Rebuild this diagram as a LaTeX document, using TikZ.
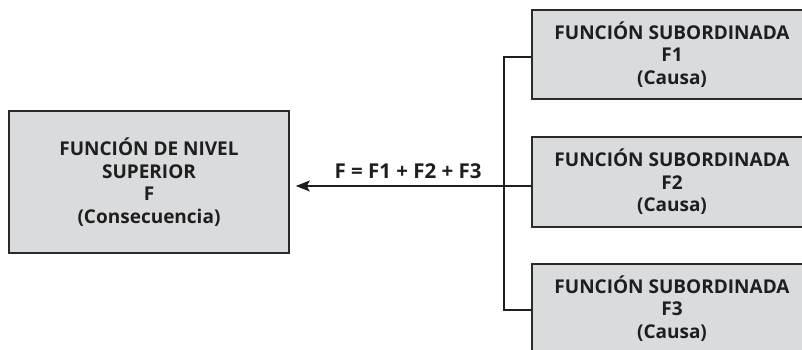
\documentclass[tikz,border=0pt]{standalone}
\usepackage{fontspec}
\setmainfont{Open Sans}
\usetikzlibrary{arrows.meta,calc}
\definecolor{boxfill}{HTML}{DADBDD}
\definecolor{boxline}{HTML}{2A2A2A}
\definecolor{txt}{HTML}{1E1E1E}
\begin{document}
\begin{tikzpicture}[x=1pt,y=-1pt,
  fbox/.style={draw=boxline,line width=1.6pt,fill=boxfill,rectangle,inner sep=0pt,
    align=center,font=\bfseries\fontsize{19}{22.5}\selectfont,text=txt},
  conn/.style={line width=1.2pt,draw=txt}]
\useasboundingbox (0,0) rectangle (802,349);
\clip (0,0) rectangle (802,349);
\node[fbox,minimum width=280pt,minimum height=142pt] (sup) at (149,182) {FUNCIÓN DE NIVEL\\SUPERIOR\\F\\(Consecuencia)};
\node[fbox,minimum width=280pt,minimum height=89pt] (s1) at (672,54.5) {FUNCIÓN SUBORDINADA\\F1\\(Causa)};
\node[fbox,minimum width=280pt,minimum height=90pt] (s2) at (672,182) {FUNCIÓN SUBORDINADA\\F2\\(Causa)};
\node[fbox,minimum width=280pt,minimum height=89pt] (s3) at (672,308.5) {FUNCIÓN SUBORDINADA\\F3\\(Causa)};
\coordinate (c1) at ([yshift=-2.5pt]s1.west);
\coordinate (c3) at ([yshift=-1.5pt]s3.west);
\coordinate (c2) at ([yshift=-4pt]s2.west);
\draw[conn] (c1) -- (504,57) coordinate (b1) -- (b1 |- c3) -- (c3);
\draw[conn,-{Stealth[length=14pt,width=11pt,inset=3pt]},shorten >=6pt] (c2) -- (c2 -| sup.east)
  node[pos=0.51,above=3pt,font=\bfseries\fontsize{20.5}{22}\selectfont,text=txt] (lbl) {F = F1 + F2 + F3};
\end{tikzpicture}
\end{document}
